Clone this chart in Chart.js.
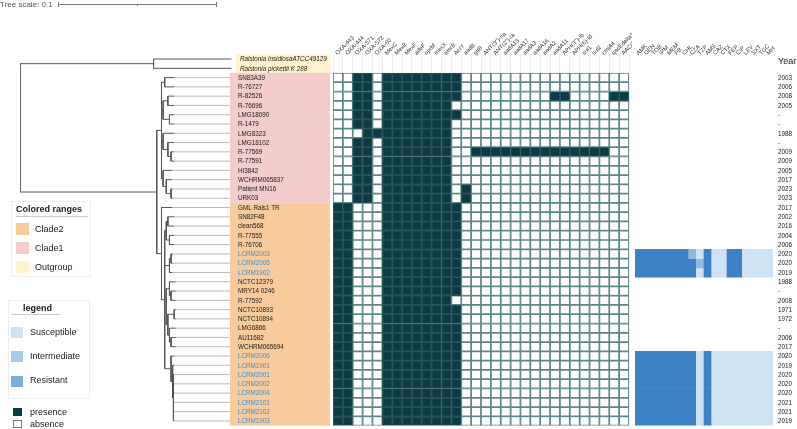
<!DOCTYPE html>
<html><head><meta charset="utf-8">
<script src="https://cdn.jsdelivr.net/npm/chart.js@4.4.1/dist/chart.umd.min.js"></script>
<style>
html,body{margin:0;padding:0;background:#fff;width:797px;height:429px;overflow:hidden;font-family:"Liberation Sans",Arial,sans-serif;}
canvas{position:absolute;top:0;}
.a{position:absolute;white-space:nowrap;color:#222;font-size:9px;line-height:10px;}
.sw{position:absolute;}
.box{position:absolute;border:1px solid #eeeeee;}
.ul{position:absolute;height:1px;background:#cccccc;}
</style></head><body>
<canvas id="tree" style="left:0" width="240" height="429"></canvas>
<canvas id="genes" style="left:228px" width="404" height="429"></canvas>
<canvas id="res" style="left:632px" width="165" height="429"></canvas>

<div class="box" style="left:11px;top:201px;width:78px;height:74px;background:#fff"></div>
<div class="a" style="left:16px;top:204px;font-weight:bold">Colored ranges</div>
<div class="ul" style="left:16px;top:216px;width:72px"></div>
<div class="sw" style="left:16px;top:223px;width:13px;height:12px;background:#f9cb9c"></div>
<div class="a" style="left:35px;top:224px">Clade2</div>
<div class="sw" style="left:16px;top:242px;width:13px;height:12px;background:#f4cccc"></div>
<div class="a" style="left:35px;top:243px">Clade1</div>
<div class="sw" style="left:16px;top:261px;width:13px;height:12px;background:#fff2cc"></div>
<div class="a" style="left:35px;top:262px">Outgroup</div>

<div class="box" style="left:8px;top:300px;width:80px;height:97px"></div>
<div class="a" style="left:23px;top:303px;font-weight:bold">legend</div>
<div class="ul" style="left:11px;top:314px;width:50px"></div>
<div class="sw" style="left:11px;top:327px;width:12px;height:11px;background:#cfe2f3"></div>
<div class="a" style="left:30px;top:327px">Susceptible</div>
<div class="sw" style="left:11px;top:351px;width:12px;height:11px;background:#a8c9ea"></div>
<div class="a" style="left:30px;top:351px">Intermediate</div>
<div class="sw" style="left:11px;top:376px;width:12px;height:11px;background:#7aaedd"></div>
<div class="a" style="left:30px;top:375px">Resistant</div>
<div class="sw" style="left:13px;top:408px;width:9px;height:8px;background:#0d3b45"></div>
<div class="a" style="left:30px;top:407px">presence</div>
<div class="sw" style="left:13px;top:420px;width:7px;height:6px;border:1px solid #5d8585;background:#fff"></div>
<div class="a" style="left:30px;top:419px">absence</div>

<script>
// ---------------- DATA ----------------
const rowNames = ["Ralstonia insidiosaATCC49129","Ralstonia pickettii K 288",
 "SN83A39","R-76727","R-82526","R-76696","LMG18090","R-1479","LMG8323","LMG18102","R-77569","R-77591","HI3842","WCHRM065837","Patient MN16","URK03",
 "GML Rals1 TR","SN82F48","clean568","R-77555","R-76706","LCRM2003","LCRM2005","LCRM1902","NCTC12379","MRY14 0246","R-77592","NCTC10893","NCTC10894","LMG6866","AU11682","WCHRM065694",
 "LCRM2006","LCRM1901","LCRM2001","LCRM2002","LCRM2004","LCRM2101","LCRM2102","LCRM1903"];
const cladeOf = ["Outgroup","Outgroup",
 "Clade1","Clade1","Clade1","Clade1","Clade1","Clade1","Clade1","Clade1","Clade1","Clade1","Clade1","Clade1","Clade1","Clade1",
 "Clade2","Clade2","Clade2","Clade2","Clade2","Clade2","Clade2","Clade2","Clade2","Clade2","Clade2","Clade2","Clade2","Clade2","Clade2","Clade2",
 "Clade2","Clade2","Clade2","Clade2","Clade2","Clade2","Clade2","Clade2"];
const years = ["","",
 "2003","2006","2008","2005","-","-","1988","-","2009","2009","2005","2017","2023","2023",
 "2017","2002","2016","2004","2006","2020","2020","2019","1988","-","2008","1971","1972","-","2006","2017",
 "2020","2019","2020","2020","2020","2021","2021","2019"];
const genes = ["OXA-443","OXA-444","OXA-571","OXA-572","OXA-60","MexC","MexB","MexF","adeF","oprM","mexX","amrB","AcrY","aadB","gltB",
 "ANT(3'')-IIa","ANT(2'')-Ia","aadA13","aadA17","aadA3","aadA16","aadA2","aadA11","APH(3'')-Ib","APH(6)-Id","sul1","sul2","cmlA4","qacEdelta1","AAC(3)-IIa"];
// presence (1) / absence (0) per genome, columns follow `genes`
const presence = {
 "SN83A39":      "001101111111100000000000000000",
 "R-76727":      "001101111111100000000000000000",
 "R-82526":      "001101111111100000000011000011",
 "R-76696":      "001101111111000000000000000000",
 "LMG18090":     "001101111111100000000000000000",
 "R-1479":       "001101111111000000000000000000",
 "LMG8323":      "000111111111000000000000000000",
 "LMG18102":     "001101111111000000000000000000",
 "R-77569":      "001101111111001111111111111100",
 "R-77591":      "001101111111000000000000000000",
 "HI3842":       "001101111111000000000000000000",
 "WCHRM065837":  "001101111111000000000000000000",
 "Patient MN16": "001101111111010000000000000000",
 "URK03":        "001101111111010000000000000000",
 "GML Rals1 TR": "110001111111100000000000000000",
 "SN82F48":      "110001111111100000000000000000",
 "clean568":     "110001111111100000000000000000",
 "R-77555":      "110001111111100000000000000000",
 "R-76706":      "110001111111100000000000000000",
 "LCRM2003":     "110001111111100000000000000000",
 "LCRM2005":     "110001111111100000000000000000",
 "LCRM1902":     "110001111111100000000000000000",
 "NCTC12379":    "110001111111100000000000000000",
 "MRY14 0246":   "110001111111100000000000000000",
 "R-77592":      "110001111111000000000000000000",
 "NCTC10893":    "110001111111100000000000000000",
 "NCTC10894":    "110001111111100000000000000000",
 "LMG6866":      "110001111111100000000000000000",
 "AU11682":      "110001111111100000000000000000",
 "WCHRM065694":  "110001111111100000000000000000",
 "LCRM2006":     "110001111111100000000000000000",
 "LCRM1901":     "110001111111100000000000000000",
 "LCRM2001":     "110001111111100000000000000000",
 "LCRM2002":     "110001111111100000000000000000",
 "LCRM2004":     "110001111111100000000000000000",
 "LCRM2101":     "110001111111100000000000000000",
 "LCRM2102":     "110001111111100000000000000000",
 "LCRM1903":     "110001111111100000000000000000"
};
const antibiotics = ["AMK","GEN","TOB","IPM","MEM","PB","CHL","CZA","TZP","AMS","CAZ","CTX","FEP","CIP","LEV","SXT","TGC","MH"];
// S = susceptible, I = intermediate, R = resistant
const susceptibility = {
 "LCRM2003": "RRRRRRRISRSSRRSSSS",
 "LCRM2005": "RRRRRRRRIRSSRRSSSS",
 "LCRM1902": "RRRRRRRRSRSSRRSSSS",
 "LCRM2006": "RRRRRRRRSRSSSSSSSS",
 "LCRM1901": "RRRRRRRRSRSSSSSSSS",
 "LCRM2001": "RRRRRRRRSRSSSSSSSS",
 "LCRM2002": "RRRRRRRRSRSSSSSSSS",
 "LCRM2004": "RRRRRRRRSRSSSSSSSS",
 "LCRM2101": "RRRRRRRRSRSSSSSSSS",
 "LCRM2102": "RRRRRRRRSRSSSSSSSS",
 "LCRM1903": "RRRRRRRRSRSSSSSSSS"
};
const treeScaleValue = 0.1;
const newick = "(((Ralstonia insidiosaATCC49129:0.049,Ralstonia pickettii K 288:0.049):0.084," +
 "(((SN83A39:0.006,R-76727:0.006):0.002,((R-82526:0.004,R-76696:0.004):0.003,(LMG18090:0.003,R-1479:0.003):0.004):0.001,(LMG8323:0.007,(LMG18102:0.004,(R-77569:0.002,R-77591:0.002):0.002):0.003):0.001,(HI3842:0.006,(WCHRM065837:0.004,(Patient MN16:0.001,URK03:0.001):0.003):0.002):0.001):0.003," +
 "(GML Rals1 TR:0.007,(((SN82F48:0.004,clean568:0.004):0.001,(R-77555:0.003,R-76706:0.003):0.002):0.001,((LCRM2003:0.001,LCRM2005:0.001):0.001,LCRM1902:0.002):0.003,((NCTC12379:0.004,(MRY14 0246:0.003,R-77592:0.003):0.001):0.002,((NCTC10893:0.001,NCTC10894:0.001):0.004,(LMG6866:0.004,(AU11682:0.003,WCHRM065694:0.003):0.001):0.001):0.001):0.001,(LCRM2006:0.002,(LCRM1901:0.001,(LCRM2001:0.0005,LCRM2002:0.0005,LCRM2004:0.0005,LCRM2101:0.0005,LCRM2102:0.0005,LCRM1903:0.0005):0.0005):0.001):0.004):0.002):0.003):0.086));";

// ---------------- STYLE ----------------
const FONT = '"Liberation Sans", Arial, sans-serif';
const DARK = '#0d3b45', DARK_BORDER = '#2a535b', GRID_BORDER = '#5f8687';
const BLUE_TXT = '#3d8fd1';
const cladeColor = {Clade2:'#f9cb9c', Clade1:'#f4cccc', Outgroup:'#fff2cc'};
const resColor = {R:'#3d82c4', I:'#8fb9e3', S:'#cfe2f3'};
const ROW_PAD = {top:54.4, bottom:3.4};
const yScaleOpt = {type:'linear', reverse:true, min:-0.5, max:rowNames.length-0.5, display:false};
const common = {responsive:false, animation:false, devicePixelRatio:1,
  plugins:{legend:{display:false}, tooltip:{enabled:false}}};

// ---------------- TREE ----------------
function parseNewick(s){
  let i=0;
  function node(){
    const n={children:[],name:'',len:0};
    if(s[i]==='('){ i++; n.children.push(node()); while(s[i]===','){ i++; n.children.push(node()); } i++; }
    let name=''; while(i<s.length && !',():;'.includes(s[i])) name+=s[i++];
    n.name=name.trim();
    if(s[i]===':'){ i++; let l=''; while(i<s.length && !',();'.includes(s[i])) l+=s[i++]; n.len=parseFloat(l); }
    return n;
  }
  return node();
}
const root = parseNewick(newick);
const branchSegs = [], leafTips = [];
(function layout(n, x0){
  n.x = x0 + n.len;
  if(!n.children.length){ n.y = rowNames.indexOf(n.name); leafTips.push(n); return; }
  n.children.forEach(c=>layout(c, n.x));
  n.y = (n.children[0].y + n.children[n.children.length-1].y)/2;
  branchSegs.push([{x:n.x,y:n.children[0].y},{x:n.x,y:n.children[n.children.length-1].y}]);
  n.children.forEach(c=>branchSegs.push([{x:n.x,y:c.y},{x:c.x,y:c.y}]));
})(root, -root.len);
const alignX = Math.max(...leafTips.map(l=>l.x));
const alignSegs = leafTips.filter(l=>l.x<alignX).map(l=>[{x:l.x,y:l.y},{x:alignX,y:l.y}]);

const PX_PER_UNIT = 1590, TREE_LEFT = 20, TREE_W = 220;
new Chart(document.getElementById('tree'), {
  type:'scatter',
  data:{datasets:[
    ...alignSegs.map(s=>({data:s, showLine:true, borderColor:'#a8a8a8', borderWidth:0.8, pointRadius:0})),
    ...branchSegs.map(s=>({data:s, showLine:true, borderColor:'#555', borderWidth:1, pointRadius:0}))
  ]},
  options:{...common,
    layout:{padding:{left:TREE_LEFT,right:0,top:ROW_PAD.top,bottom:ROW_PAD.bottom}},
    scales:{x:{type:'linear',min:0,max:TREE_W/PX_PER_UNIT,display:false}, y:yScaleOpt}},
  plugins:[{id:'treescale', afterDraw(c){
    const ctx=c.ctx, xs=c.scales.x;
    const len = xs.getPixelForValue(treeScaleValue)-xs.getPixelForValue(0);
    ctx.save();
    ctx.fillStyle='#555'; ctx.font='8px '+FONT; ctx.textBaseline='middle'; ctx.textAlign='left';
    ctx.fillText('Tree scale: '+treeScaleValue, 0, 5);
    const x0=58, y=4.5;
    ctx.strokeStyle='#777'; ctx.lineWidth=1;
    ctx.beginPath();
    ctx.moveTo(x0,y); ctx.lineTo(x0+len,y);
    ctx.moveTo(x0+0.5,y-2.5); ctx.lineTo(x0+0.5,y+2.5);
    ctx.moveTo(x0+len-0.5,y-2.5); ctx.lineTo(x0+len-0.5,y+2.5);
    ctx.moveTo(x0+len/2,y); ctx.lineTo(x0+len/2,y+1.5);
    ctx.stroke(); ctx.restore();
  }}]
});

// ---------------- GENE HEATMAP ----------------
const geneDatasets = rowNames.map((name,r)=>{
  const p = presence[name]; if(!p) return null;
  return {data:genes.map(()=>[r-0.5,r+0.5]),
    backgroundColor:genes.map((g,j)=>p[j]==='1'?DARK:'#ffffff'),
    borderColor:genes.map((g,j)=>p[j]==='1'?DARK_BORDER:GRID_BORDER),
    borderWidth:1.2, borderSkipped:false, grouped:false, barPercentage:1, categoryPercentage:1};
}).filter(Boolean);

new Chart(document.getElementById('genes'), {
  type:'bar',
  data:{labels:genes, datasets:geneDatasets},
  options:{...common,
    layout:{padding:{left:105,right:3,top:ROW_PAD.top,bottom:ROW_PAD.bottom}},
    scales:{
      x:{type:'category', offset:true, grid:{display:true, offset:true, color:'#ececec', drawTicks:false}, ticks:{display:false}, border:{display:false}, afterFit(s){s.height=0;}},
      y:yScaleOpt}},
  plugins:[{id:'rowdeco',
    beforeDraw(c){
      const ctx=c.ctx, ys=c.scales.y, h=Math.abs(ys.getPixelForValue(1)-ys.getPixelForValue(0));
      ctx.save();
      let start=0;
      for(let i=1;i<=rowNames.length;i++){
        if(i===rowNames.length || cladeOf[i]!==cladeOf[start]){
          const y0=ys.getPixelForValue(start)-h/2, y1=ys.getPixelForValue(i-1)+h/2;
          const x0 = cladeOf[start]==='Outgroup'?8:2;
          ctx.fillStyle=cladeColor[cladeOf[start]];
          ctx.fillRect(x0,y0,102-x0,y1-y0);
          start=i;
        }
      }
      ctx.restore();
    },
    afterDraw(c){
      const ctx=c.ctx, ys=c.scales.y, xs=c.scales.x;
      ctx.save();
      ctx.textBaseline='middle'; ctx.textAlign='left';
      rowNames.forEach((n,i)=>{
        const it = cladeOf[i]==='Outgroup';
        ctx.font=(it?'italic ':'')+'6.3px '+FONT;
        ctx.fillStyle = n.startsWith('LCRM')?BLUE_TXT:'#1a1a1a';
        ctx.fillText(n, it?12:10, ys.getPixelForValue(i)+0.5);
      });
      ctx.font='5.8px '+FONT; ctx.fillStyle='#333';
      genes.forEach((g,j)=>{
        ctx.save(); ctx.translate(xs.getPixelForValue(j)-1.5, 54); ctx.rotate(-Math.PI/4);
        ctx.fillText(g,0,0); ctx.restore();
      });
      ctx.restore();
    }}]
});

// ---------------- SUSCEPTIBILITY HEATMAP ----------------
const resDatasets = rowNames.map((name,r)=>{
  const s = susceptibility[name]; if(!s) return null;
  return {data:antibiotics.map(()=>[r-0.5,r+0.5]),
    backgroundColor:antibiotics.map((a,j)=>resColor[s[j]]),
    borderWidth:0, grouped:false, barPercentage:1, categoryPercentage:1};
}).filter(Boolean);

new Chart(document.getElementById('res'), {
  type:'bar',
  data:{labels:antibiotics, datasets:resDatasets},
  options:{...common,
    layout:{padding:{left:3,right:24,top:ROW_PAD.top,bottom:ROW_PAD.bottom}},
    scales:{x:{type:'category', display:false}, y:yScaleOpt}},
  plugins:[{id:'resdeco', afterDraw(c){
    const ctx=c.ctx, ys=c.scales.y, xs=c.scales.x;
    ctx.save(); ctx.textBaseline='middle'; ctx.textAlign='left';
    ctx.font='6.3px '+FONT; ctx.fillStyle='#1a1a1a';
    years.forEach((y,i)=>{ if(y) ctx.fillText(y, 146, ys.getPixelForValue(i)+0.5); });
    ctx.font='9px '+FONT; ctx.fillText('Year', 146, 62);
    ctx.font='5.8px '+FONT; ctx.fillStyle='#333';
    antibiotics.forEach((a,j)=>{
      ctx.save(); ctx.translate(xs.getPixelForValue(j)-1.5, 54); ctx.rotate(-Math.PI/4);
      ctx.fillText(a,0,0); ctx.restore();
    });
    ctx.restore();
  }}]
});
</script>
</body></html>
